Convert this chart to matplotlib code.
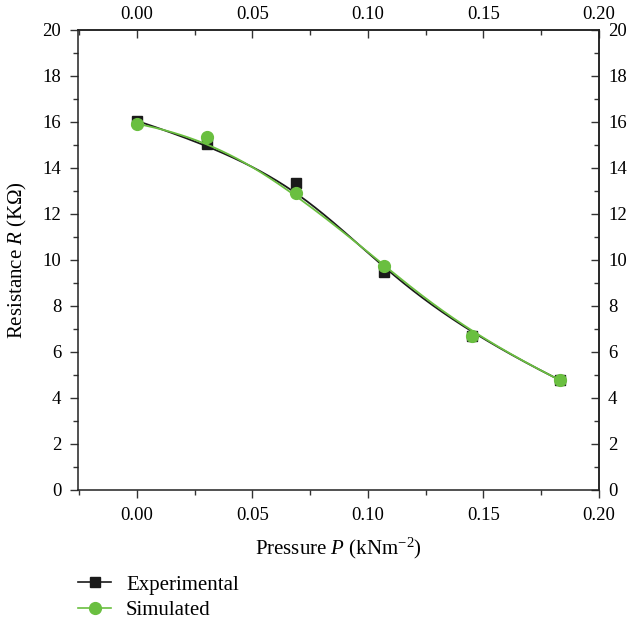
import numpy as np
import matplotlib
matplotlib.use("Agg")
import matplotlib.pyplot as plt
from matplotlib.ticker import MultipleLocator, FormatStrFormatter
from matplotlib.lines import Line2D

plt.rcParams['font.family'] = ['Liberation Serif', 'DejaVu Serif']
plt.rcParams['mathtext.fontset'] = 'custom'
plt.rcParams['mathtext.rm'] = 'Liberation Serif'
plt.rcParams['mathtext.it'] = 'Liberation Serif:italic'

pressure = [0.0, 0.0305, 0.069, 0.107, 0.145, 0.183]
experimental = [16.05, 15.03, 13.33, 9.49, 6.70, 4.78]
simulated = [15.92, 15.33, 12.93, 9.74, 6.70, 4.78]


def bspline(x, y, n=400, k=3):
    """Clamped cubic B-spline with the data points as control points."""
    P = np.column_stack([x, y]).astype(float)
    m = len(P)
    inner = np.arange(1, m - k)
    knots = np.concatenate([np.zeros(k + 1), inner, np.full(k + 1, m - k)]).astype(float)
    ts = np.linspace(0, m - k, n)
    out = []
    for t in ts:
        if t >= knots[m]:
            s = m - 1
        else:
            s = np.searchsorted(knots, t, side='right') - 1
        d = [P[j + s - k].copy() for j in range(k + 1)]
        for r in range(1, k + 1):
            for j in range(k, r - 1, -1):
                i = j + s - k
                denom = knots[i + k + 1 - r] - knots[i]
                a = 0.0 if denom == 0 else (t - knots[i]) / denom
                d[j] = (1 - a) * d[j - 1] + a * d[j]
        out.append(d[k])
    out = np.array(out)
    return out[:, 0], out[:, 1]


fig = plt.figure(figsize=(6.29, 6.27), dpi=100)
ax = fig.add_axes([78 / 629, 137 / 627, 521 / 629, 460 / 627])

black = '#1a1a1a'
green = '#6abf40'

xs, ys = bspline(pressure, experimental)
ax.plot(xs, ys, color=black, lw=1.3, zorder=2)
ax.plot(pressure, experimental, 's', color=black, ms=7.5, zorder=3)
xs, ys = bspline(pressure, simulated)
ax.plot(xs, ys, color=green, lw=1.3, zorder=4)
ax.plot(pressure, simulated, 'o', color=green, ms=8.5, zorder=5)

ax.set_xlim(-0.0255, 0.2)
ax.set_ylim(0, 20)

tick_fs = 13.5


def setup_x(a):
    a.xaxis.set_major_locator(MultipleLocator(0.05))
    a.xaxis.set_minor_locator(MultipleLocator(0.025))
    a.xaxis.set_major_formatter(FormatStrFormatter('%.2f'))


def setup_y(a):
    a.yaxis.set_major_locator(MultipleLocator(2))
    a.yaxis.set_minor_locator(MultipleLocator(1))


setup_x(ax)
setup_y(ax)
ax.tick_params(which='both', direction='out', labelsize=tick_fs, width=1,
               color='#333333', pad=6, top=False, right=False)
ax.tick_params(which='major', length=6)
ax.tick_params(which='minor', length=3.5)

secx = ax.secondary_xaxis('top')
setup_x(secx)
secx.tick_params(which='both', direction='in', labelsize=tick_fs, width=1,
                 color='#333333', pad=5)
secx.tick_params(which='major', length=5.5)
secx.tick_params(which='minor', length=3.5)

secy = ax.secondary_yaxis('right')
setup_y(secy)
secy.tick_params(which='both', direction='in', labelsize=tick_fs, width=1,
                 color='#333333', pad=6.5)
secy.tick_params(which='major', length=5.5)
secy.tick_params(which='minor', length=3.5)

for a in (ax, secx, secy):
    for s in a.spines.values():
        s.set_linewidth(1.1)
        s.set_color('#222222')

ax.set_xlabel('Pressure $P$ (kNm$^{-2}$)', fontsize=15, labelpad=9)
ax.set_ylabel('Resistance $R$ (K\u03a9)', fontsize=15, labelpad=10)

handles = [Line2D([], [], color=black, marker='s', lw=1.2, ms=7.5),
           Line2D([], [], color=green, marker='o', lw=1.2, ms=8.5)]
fig.legend(handles, ['Experimental', 'Simulated'], loc='upper left',
           bbox_to_anchor=(78 / 629, 1 - 575 / 627), frameon=False, fontsize=15,
           handlelength=1.6, handletextpad=0.7, labelspacing=0.3,
           borderaxespad=0, borderpad=0)

fig.savefig('out.png', dpi=100)
